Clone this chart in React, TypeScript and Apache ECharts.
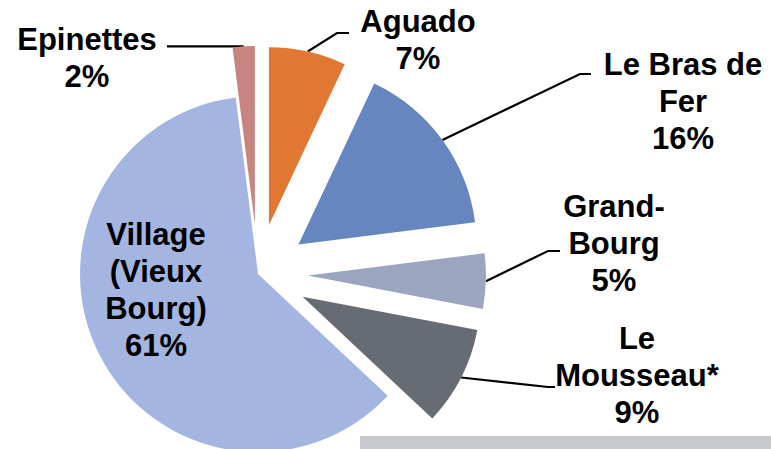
import React, { useEffect, useRef } from 'react';
import * as echarts from 'echarts';

// ---- data ----
const categories = ['Aguado', 'Le Bras de Fer', 'Grand-Bourg', 'Le Mousseau*', 'Village (Vieux Bourg)', 'Epinettes'];
const labelNames = ['Aguado', 'Le Bras de\nFer', 'Grand-\nBourg', 'Le\nMousseau*', 'Village\n(Vieux\nBourg)', 'Epinettes'];
const values = [7, 16, 5, 9, 61, 2];
const exploded = [true, true, true, true, false, true];

// ---- style ----
const colors = ['#E17832', '#6786C0', '#9BA5BF', '#676B73', '#A3B5E0', '#C8857F'];
const labelCenters: number[][] = [[418, 40], [683, 101], [614, 243], [637, 375], [156, 290], [87, 58]];
const lineElbows: (number[] | null)[] = [[337, 33], [580, 74], [548, 251], [548, 387], null, null];
const lineEnds: (number[] | null)[] = [[349, 33], [591, 74], [560, 251], [555, 387], null, [167, null as any]];
const CENTER = [258, 274];
const RADIUS = 178;
const OFFSET = 50;

export default function App() {
  const ref = useRef<HTMLDivElement>(null);
  useEffect(() => {
    if (!ref.current) return;
    const chart = echarts.init(ref.current, null, { renderer: 'svg' });
    const total = values.reduce((a, b) => a + b, 0);
    let cum = 0;
    const series = categories.map((_, k) => {
      const mid = ((cum + values[k] / 2) / total) * Math.PI * 2;
      cum += values[k];
      const off = exploded[k] ? OFFSET : 0;
      const center = [CENTER[0] + off * Math.sin(mid), CENTER[1] - off * Math.cos(mid)];
      return {
        type: 'pie',
        silent: true,
        center,
        radius: RADIUS,
        startAngle: 90,
        clockwise: true,
        avoidLabelOverlap: false,
        emphasis: { disabled: true },
        label: {
          show: true,
          formatter: (p: any) => labelNames[p.dataIndex] + '\n' + p.value + '%',
          color: '#000',
          fontFamily: "'Liberation Sans', Arial, sans-serif",
          fontWeight: 'bold',
          fontSize: 31,
          lineHeight: 37,
          align: 'center',
        },
        labelLine: {
          show: true,
          length: 15,
          length2: 10,
          lineStyle: { color: '#000', width: 2.2 },
        },
        labelLayout: (params: any) => {
          const i = params.dataIndex;
          if (i !== k) return {};
          const c = labelCenters[i];
          const res: any = { x: c[0], y: c[1], align: 'center', verticalAlign: 'middle' };
          const pts = params.labelLinePoints;
          const end = lineEnds[i];
          if (pts && end) {
            const p0 = pts[0];
            const out = [[p0[0], p0[1]]];
            if (lineElbows[i]) out.push(lineElbows[i] as number[]);
            out.push([end[0], end[1] == null ? p0[1] : end[1]]);
            res.labelLinePoints = out;
          }
          return res;
        },
        data: categories.map((name, i) => ({
          name,
          value: values[i],
          itemStyle: { color: i === k ? colors[i] : 'rgba(0,0,0,0)' },
          label: i === k ? { show: true, position: i === 4 ? 'inside' : 'outside' } : { show: false },
          labelLine: { show: i === k && i !== 4 },
        })),
      };
    });
    chart.setOption({
      animation: false,
      backgroundColor: '#ffffff',
      graphic: [
        { type: 'rect', shape: { x: 360, y: 436, width: 411, height: 13 }, style: { fill: '#C8C9CD' }, silent: true },
      ],
      series,
    });
    return () => chart.dispose();
  }, []);
  return <div ref={ref} style={{ position: 'absolute', left: 0, top: 0, width: 771, height: 449 }} />;
}
